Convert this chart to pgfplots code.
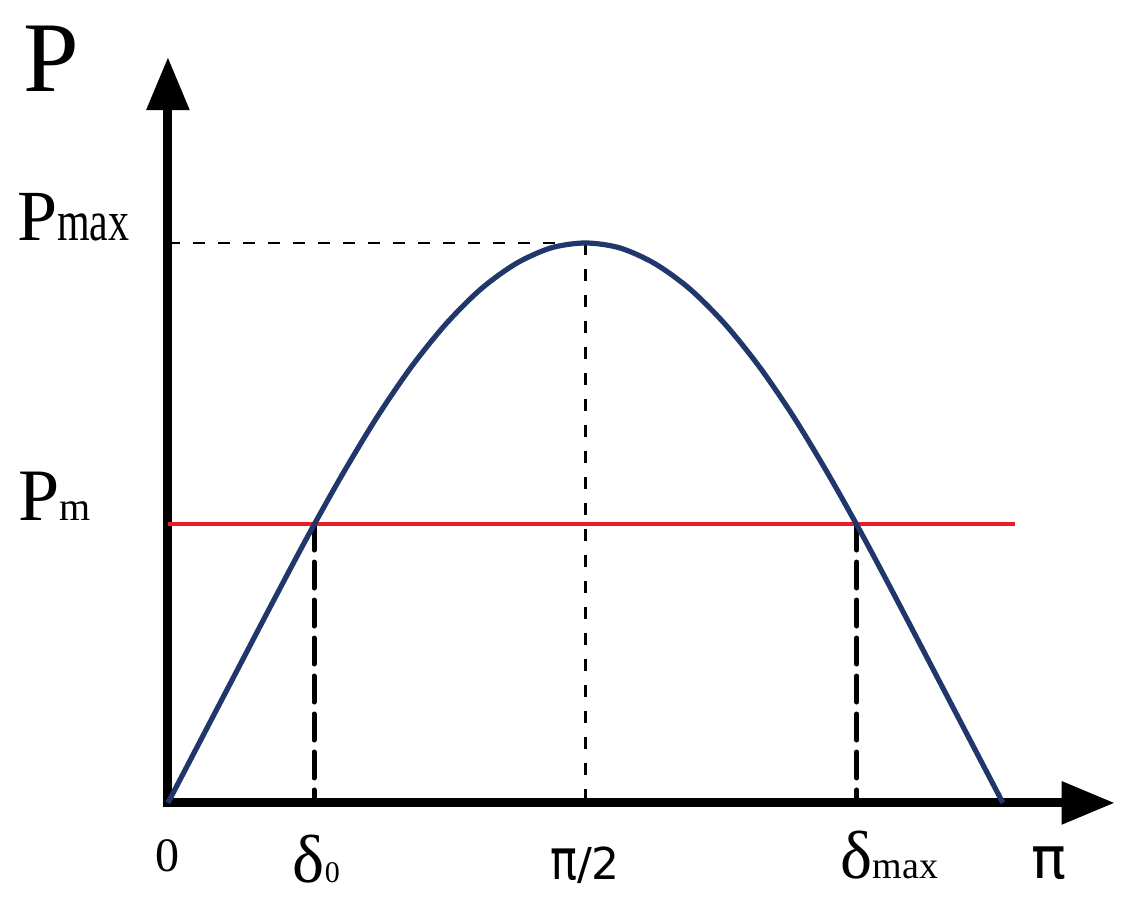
\documentclass[border=0pt]{standalone}
\usepackage{fontspec}
\setmainfont{Liberation Serif}
\newfontfamily\sansf{DejaVu Sans}
\usepackage{graphicx}
\usepackage{pgfplots}
\pgfplotsset{compat=1.18}
\usetikzlibrary{arrows.meta}
\definecolor{curveblue}{RGB}{31,55,106}
\definecolor{pmred}{RGB}{237,28,36}
\newcommand{\fs}[1]{\fontsize{#1}{#1}\selectfont}
\begin{document}
\begin{tikzpicture}
\begin{axis}[
  scale only axis,
  width=473.5pt, height=373pt,
  xmin=0, xmax=204.1, ymin=0, ymax=1.332,
  axis lines=left,
  axis line style={line width=4.5pt, line cap=rect, -{Triangle[length=26.5pt,width=20.5pt]}},
  xtick=\empty, ytick=\empty,
  clip=false,
]
% guide lines
\addplot[black, line width=1.3pt, dash pattern=on 6pt off 6.5pt] coordinates {(0,1) (90,1)};
\addplot[black, line width=1.3pt, dash pattern=on 6pt off 7pt] coordinates {(90,1) (90,0)};
\addplot[black, line width=2.5pt, line cap=round, dash pattern=on 13pt off 6pt] coordinates {(31.5,0.498) (31.5,0)};
\addplot[black, line width=2.5pt, line cap=round, dash pattern=on 13pt off 6pt] coordinates {(148.5,0.498) (148.5,0)};
% mechanical power
\addplot[pmred, line width=2pt] coordinates {(0,0.498) (182.6,0.498)};
% power-angle curve
\addplot[curveblue, line width=2.6pt, smooth, tension=0.5] coordinates {
(0,0) (7.5,0.119) (15,0.238) (22.5,0.357) (30,0.474) (37.5,0.585) (45,0.688)
(52.5,0.779) (60,0.856) (67.5,0.918) (75,0.963) (82.5,0.991) (90,1.0)
(97.5,0.991) (105,0.963) (112.5,0.918) (120,0.856) (127.5,0.779) (135,0.688)
(142.5,0.585) (150,0.474) (157.5,0.357) (165,0.238) (172.5,0.119) (180,0)};
% labels
\node[anchor=base west, inner sep=0pt] at (axis cs:-31.3,1.27) {\fs{50}P};
\node[anchor=base west, inner sep=0pt] at (axis cs:-32.6,1.004) {\fs{36}P\scalebox{1}[1.35]{\fs{21}max}};
\node[anchor=base west, inner sep=0pt] at (axis cs:-32.4,0.5036) {\fs{37}P\fs{20}m};
\node[anchor=base, inner sep=0pt] at (axis cs:0,-0.1232) {\fs{24}0};
\node[anchor=base, inner sep=0pt] at (axis cs:30.4,-0.1429) {\fs{34}δ\rlap{\fs{15}0}};
\node[anchor=base, inner sep=0pt] at (axis cs:89.9,-0.1375) {\sansf\scalebox{0.8}[1]{\fs{28}π}\fs{22}/2};
\node[anchor=base, inner sep=0pt] at (axis cs:148.5,-0.1357) {\fs{34}δ\rlap{\fs{19}max}};
\node[anchor=base, inner sep=0pt] at (axis cs:189.9,-0.1357) {\sansf\fs{29}π};
\coordinate (bbl) at (axis cs:-36.2,-0.184);
\coordinate (btr) at (axis cs:208.7,1.434);
\end{axis}
\path (bbl) rectangle (btr);
\end{tikzpicture}
\end{document}
